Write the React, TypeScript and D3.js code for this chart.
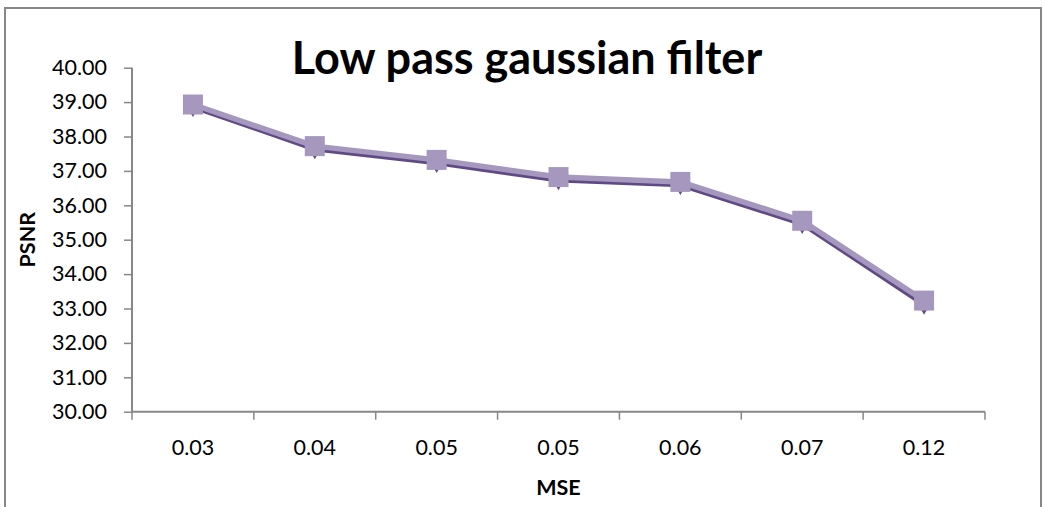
import { useEffect, useRef } from 'react';
import * as d3 from 'd3';

const W = 1044;
const H = 507;

const categories = ['0.03', '0.04', '0.05', '0.05 ', '0.06', '0.07', '0.12'];
// two overlapping series: dark diamonds (underneath), light squares (on top)
const seriesDark = [38.85, 37.62, 37.22, 36.72, 36.58, 35.45, 33.1];
const seriesLight = [38.93, 37.72, 37.32, 36.82, 36.68, 35.55, 33.23];
const yTicks = [30, 31, 32, 33, 34, 35, 36, 37, 38, 39, 40];

const M = { left: 132, right: 59, top: 67.7, bottom: 95.3 };
const AXIS = '#878787';
const DARK = '#5f4a85';
const LIGHT = '#a597be';
const FONT = 'Lato, "Open Sans", sans-serif';

export default function App() {
  const svgRef = useRef<SVGSVGElement>(null);

  useEffect(() => {
    if (!svgRef.current) return;
    const svg = d3.select(svgRef.current);
    svg.selectAll('*').remove();

    const iW = W - M.left - M.right;
    const iH = H - M.top - M.bottom;

    // chart frame
    svg.append('rect')
      .attr('x', 5).attr('y', 8).attr('width', 1036).attr('height', 520)
      .attr('fill', '#fff').attr('stroke', AXIS).attr('stroke-width', 2);

    const root = svg.append('g').attr('transform', `translate(${M.left},${M.top})`);

    const x = d3.scaleBand().domain(categories).range([0, iW]);
    const y = d3.scaleLinear().domain([30, 40]).range([iH, 0]);

    // ── Y axis ──────────────────────────────────────────────────────────────
    root.append('g')
      .call(d3.axisLeft(y).tickValues(yTicks).tickSize(8).tickPadding(17).tickFormat(d => (+d).toFixed(2)))
      .call(g => g.select('.domain').attr('stroke', AXIS).attr('stroke-width', 2).attr('d', `M0,0V${iH}`))
      .call(g => g.selectAll('.tick line').attr('stroke', AXIS).attr('stroke-width', 1.5))
      .call(g => g.selectAll('.tick text')
        .attr('fill', '#000').attr('font-size', 21.5).attr('font-family', FONT));

    // ── X axis ──────────────────────────────────────────────────────────────
    const xg = root.append('g').attr('transform', `translate(0,${iH})`);
    xg.append('line').attr('x1', 0).attr('x2', iW)
      .attr('stroke', AXIS).attr('stroke-width', 2);
    const bounds = [...categories.map(c => x(c) as number), iW];
    xg.selectAll('line.tk').data(bounds).join('line')
      .attr('class', 'tk')
      .attr('x1', d => d).attr('x2', d => d).attr('y1', 0).attr('y2', 8)
      .attr('stroke', AXIS).attr('stroke-width', 1.5);
    xg.selectAll('text').data(categories).join('text')
      .attr('x', d => (x(d) as number) + x.bandwidth() / 2)
      .attr('y', 43.5)
      .attr('text-anchor', 'middle')
      .attr('font-size', 21.5).attr('font-family', FONT)
      .text(d => d.trim());

    // ── Titles ──────────────────────────────────────────────────────────────
    svg.append('text')
      .attr('x', 527).attr('y', 74)
      .attr('text-anchor', 'middle')
      .attr('font-size', 45).attr('font-weight', 'bold').attr('font-family', FONT)
      .text('Low pass gaussian filter');

    svg.append('text')
      .attr('x', M.left + iW / 2).attr('y', 495)
      .attr('text-anchor', 'middle')
      .attr('font-size', 21.5).attr('font-weight', 'bold').attr('font-family', FONT)
      .text('MSE');

    svg.append('text')
      .attr('transform', `translate(34.5,${M.top + iH / 2}) rotate(-90)`)
      .attr('text-anchor', 'middle')
      .attr('font-size', 21.5).attr('font-weight', 'bold').attr('font-family', FONT)
      .text('PSNR');

    // ── Series ──────────────────────────────────────────────────────────────
    const cx = (i: number) => (x(categories[i]) as number) + x.bandwidth() / 2;
    const line = d3.line<number>().x((_, i) => cx(i)).y(d => y(d));

    root.append('path').datum(seriesDark)
      .attr('fill', 'none').attr('stroke', DARK).attr('stroke-width', 4)
      .attr('stroke-linejoin', 'round').attr('d', line);
    root.selectAll('path.dia').data(seriesDark).join('path')
      .attr('class', 'dia')
      .attr('transform', (d, i) => `translate(${cx(i)},${y(d)})`)
      .attr('d', d3.symbol(d3.symbolDiamond, 110)())
      .attr('fill', DARK);

    root.append('path').datum(seriesLight)
      .attr('fill', 'none').attr('stroke', LIGHT).attr('stroke-width', 5.5)
      .attr('stroke-linejoin', 'round').attr('d', line);
    root.selectAll('rect.sq').data(seriesLight).join('rect')
      .attr('class', 'sq')
      .attr('x', (_, i) => cx(i) - 10).attr('y', d => y(d) - 10)
      .attr('width', 20).attr('height', 20)
      .attr('fill', LIGHT);
  }, []);

  return (
    <svg ref={svgRef} width={W} height={H}
      style={{ position: 'absolute', left: 0, top: 0, background: '#fff' }} />
  );
}
